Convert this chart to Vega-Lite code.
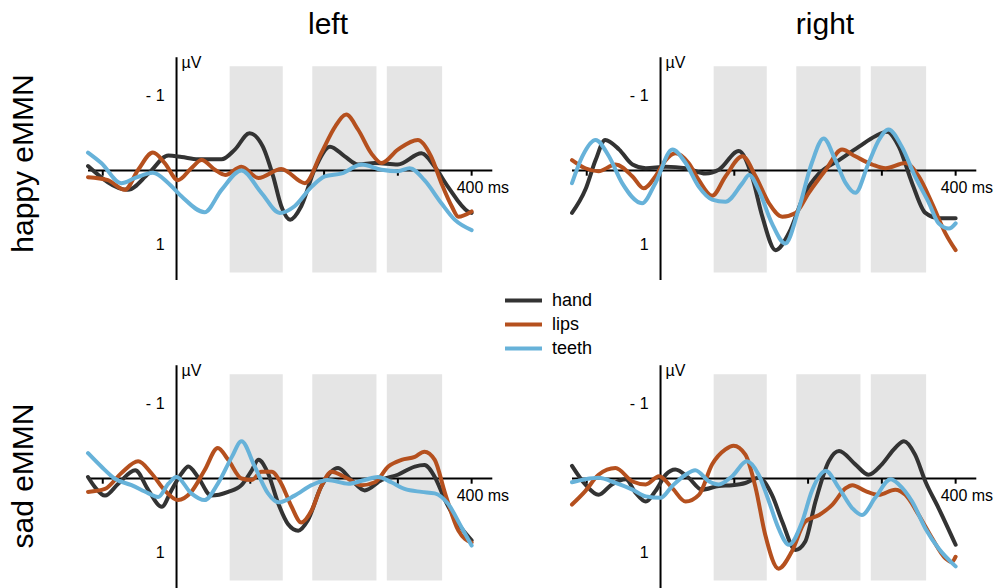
{
  "$schema": "https://vega.github.io/schema/vega-lite/v6.json",
  "autosize": {"type": "pad"},
  "padding": {"left": 8, "top": 10, "right": 0, "bottom": 0},
  "background": "white",
  "config": {
    "view": {"stroke": null},
    "font": "Liberation Sans",
    "title": {"font": "Liberation Sans", "fontSize": 30, "fontWeight": "normal", "color": "#000"},
    "text": {"font": "Liberation Sans", "fontSize": 16, "color": "#000"},
    "legend": {"orient": "none", "legendX": 424, "legendY": 234, "title": null, "symbolType": "M-2,0H2", "symbolStrokeWidth": 4, "symbolSize": 342, "labelFontSize": 18, "labelFont": "Liberation Sans", "labelColor": "#000", "rowPadding": 3, "labelOffset": 17}
  },
  "datasets": {
    "one": [{"id": 1}],
    "bands": [{"t0": 72, "t1": 144}, {"t0": 184, "t1": 271}, {"t0": 285, "t1": 360}],
    "ticks": [{"t": -100}, {"t": 100}, {"t": 200}, {"t": 300}, {"t": 400}],
    "xlabels": [{"t": 400, "label": "400 ms"}],
    "ylabels": [{"v": -1, "label": "- 1"}, {"v": 1, "label": "1"}],
    "units": [{"label": "µV"}],
    "happy_left": [
      {"c":"hand","t":-120,"v":-0.06},{"c":"hand","t":-66,"v":0.26},{"c":"hand","t":-38,"v":0.04},{"c":"hand","t":-11,"v":-0.2},{"c":"hand","t":7,"v":-0.18},{"c":"hand","t":29,"v":-0.15},{"c":"hand","t":61,"v":-0.15},{"c":"hand","t":79,"v":-0.28},{"c":"hand","t":99,"v":-0.5},{"c":"hand","t":117,"v":-0.32},{"c":"hand","t":131,"v":0.08},{"c":"hand","t":142,"v":0.48},{"c":"hand","t":154,"v":0.66},{"c":"hand","t":169,"v":0.48},{"c":"hand","t":187,"v":-0.01},{"c":"hand","t":208,"v":-0.32},{"c":"hand","t":228,"v":-0.19},{"c":"hand","t":246,"v":-0.08},{"c":"hand","t":269,"v":-0.1},{"c":"hand","t":300,"v":-0.08},{"c":"hand","t":332,"v":-0.23},{"c":"hand","t":350,"v":-0.05},{"c":"hand","t":368,"v":0.22},{"c":"hand","t":395,"v":0.55},{"c":"hand","t":400,"v":0.57},
      {"c":"lips","t":-120,"v":0.09},{"c":"lips","t":-93,"v":0.13},{"c":"lips","t":-70,"v":0.26},{"c":"lips","t":-52,"v":-0.01},{"c":"lips","t":-32,"v":-0.24},{"c":"lips","t":-16,"v":-0.1},{"c":"lips","t":2,"v":0.13},{"c":"lips","t":20,"v":-0.03},{"c":"lips","t":34,"v":-0.14},{"c":"lips","t":52,"v":-0.01},{"c":"lips","t":66,"v":0.06},{"c":"lips","t":88,"v":-0.05},{"c":"lips","t":111,"v":0.1},{"c":"lips","t":142,"v":-0.02},{"c":"lips","t":174,"v":0.17},{"c":"lips","t":196,"v":-0.23},{"c":"lips","t":215,"v":-0.59},{"c":"lips","t":230,"v":-0.75},{"c":"lips","t":246,"v":-0.55},{"c":"lips","t":264,"v":-0.23},{"c":"lips","t":278,"v":-0.1},{"c":"lips","t":300,"v":-0.28},{"c":"lips","t":327,"v":-0.41},{"c":"lips","t":345,"v":-0.19},{"c":"lips","t":359,"v":0.17},{"c":"lips","t":373,"v":0.48},{"c":"lips","t":382,"v":0.62},{"c":"lips","t":400,"v":0.55},
      {"c":"teeth","t":-120,"v":-0.24},{"c":"teeth","t":-102,"v":-0.1},{"c":"teeth","t":-75,"v":0.17},{"c":"teeth","t":-56,"v":0.1},{"c":"teeth","t":-32,"v":0.03},{"c":"teeth","t":-11,"v":0.17},{"c":"teeth","t":7,"v":0.35},{"c":"teeth","t":38,"v":0.56},{"c":"teeth","t":61,"v":0.26},{"c":"teeth","t":88,"v":0},{"c":"teeth","t":115,"v":0.3},{"c":"teeth","t":140,"v":0.57},{"c":"teeth","t":160,"v":0.48},{"c":"teeth","t":183,"v":0.22},{"c":"teeth","t":201,"v":0.08},{"c":"teeth","t":224,"v":0.04},{"c":"teeth","t":251,"v":-0.08},{"c":"teeth","t":278,"v":-0.01},{"c":"teeth","t":300,"v":0.01},{"c":"teeth","t":316,"v":-0.03},{"c":"teeth","t":336,"v":0.13},{"c":"teeth","t":359,"v":0.44},{"c":"teeth","t":377,"v":0.66},{"c":"teeth","t":400,"v":0.8}
    ],
    "happy_right": [
      {"c":"hand","t":-120,"v":0.57},{"c":"hand","t":-102,"v":0.26},{"c":"hand","t":-88,"v":-0.14},{"c":"hand","t":-75,"v":-0.41},{"c":"hand","t":-56,"v":-0.28},{"c":"hand","t":-38,"v":-0.08},{"c":"hand","t":-20,"v":-0.03},{"c":"hand","t":7,"v":-0.05},{"c":"hand","t":34,"v":-0.03},{"c":"hand","t":61,"v":0.04},{"c":"hand","t":79,"v":-0.01},{"c":"hand","t":106,"v":-0.26},{"c":"hand","t":124,"v":0.08},{"c":"hand","t":138,"v":0.62},{"c":"hand","t":156,"v":1.07},{"c":"hand","t":174,"v":0.84},{"c":"hand","t":196,"v":0.3},{"c":"hand","t":215,"v":0.04},{"c":"hand","t":242,"v":-0.14},{"c":"hand","t":269,"v":-0.32},{"c":"hand","t":291,"v":-0.46},{"c":"hand","t":307,"v":-0.52},{"c":"hand","t":323,"v":-0.32},{"c":"hand","t":341,"v":0.17},{"c":"hand","t":359,"v":0.57},{"c":"hand","t":377,"v":0.64},{"c":"hand","t":400,"v":0.64},
      {"c":"lips","t":-120,"v":-0.14},{"c":"lips","t":-102,"v":-0.03},{"c":"lips","t":-84,"v":0.01},{"c":"lips","t":-61,"v":-0.08},{"c":"lips","t":-38,"v":0.08},{"c":"lips","t":-23,"v":0.24},{"c":"lips","t":-7,"v":0.08},{"c":"lips","t":7,"v":-0.14},{"c":"lips","t":20,"v":-0.23},{"c":"lips","t":38,"v":-0.1},{"c":"lips","t":52,"v":0.13},{"c":"lips","t":70,"v":0.34},{"c":"lips","t":88,"v":0.08},{"c":"lips","t":111,"v":-0.19},{"c":"lips","t":129,"v":0.08},{"c":"lips","t":147,"v":0.44},{"c":"lips","t":165,"v":0.62},{"c":"lips","t":183,"v":0.57},{"c":"lips","t":201,"v":0.3},{"c":"lips","t":224,"v":-0.01},{"c":"lips","t":246,"v":-0.28},{"c":"lips","t":264,"v":-0.19},{"c":"lips","t":287,"v":-0.08},{"c":"lips","t":305,"v":-0.03},{"c":"lips","t":332,"v":-0.1},{"c":"lips","t":350,"v":0.08},{"c":"lips","t":368,"v":0.44},{"c":"lips","t":386,"v":0.84},{"c":"lips","t":400,"v":1.07},
      {"c":"teeth","t":-120,"v":0.17},{"c":"teeth","t":-106,"v":-0.19},{"c":"teeth","t":-88,"v":-0.41},{"c":"teeth","t":-70,"v":-0.19},{"c":"teeth","t":-52,"v":0.17},{"c":"teeth","t":-25,"v":0.44},{"c":"teeth","t":-7,"v":0.17},{"c":"teeth","t":16,"v":-0.28},{"c":"teeth","t":34,"v":-0.1},{"c":"teeth","t":52,"v":0.22},{"c":"teeth","t":70,"v":0.39},{"c":"teeth","t":88,"v":0.42},{"c":"teeth","t":111,"v":0.17},{"c":"teeth","t":120,"v":0.06},{"c":"teeth","t":133,"v":0.26},{"c":"teeth","t":151,"v":0.71},{"c":"teeth","t":169,"v":0.98},{"c":"teeth","t":187,"v":0.53},{"c":"teeth","t":205,"v":-0.1},{"c":"teeth","t":221,"v":-0.43},{"c":"teeth","t":237,"v":-0.14},{"c":"teeth","t":251,"v":0.17},{"c":"teeth","t":264,"v":0.3},{"c":"teeth","t":282,"v":-0.1},{"c":"teeth","t":296,"v":-0.41},{"c":"teeth","t":309,"v":-0.55},{"c":"teeth","t":327,"v":-0.32},{"c":"teeth","t":345,"v":0.08},{"c":"teeth","t":364,"v":0.44},{"c":"teeth","t":377,"v":0.71},{"c":"teeth","t":391,"v":0.78},{"c":"teeth","t":400,"v":0.71}
    ],
    "sad_left": [
      {"c":"hand","t":-120,"v":-0.02},{"c":"hand","t":-111,"v":0.11},{"c":"hand","t":-97,"v":0.23},{"c":"hand","t":-79,"v":0.07},{"c":"hand","t":-56,"v":-0.11},{"c":"hand","t":-38,"v":0.16},{"c":"hand","t":-20,"v":0.38},{"c":"hand","t":-7,"v":0.16},{"c":"hand","t":7,"v":-0.07},{"c":"hand","t":16,"v":-0.16},{"c":"hand","t":29,"v":-0.02},{"c":"hand","t":47,"v":0.23},{"c":"hand","t":70,"v":0.18},{"c":"hand","t":88,"v":0.09},{"c":"hand","t":102,"v":-0.11},{"c":"hand","t":111,"v":-0.25},{"c":"hand","t":124,"v":-0.07},{"c":"hand","t":138,"v":0.34},{"c":"hand","t":151,"v":0.61},{"c":"hand","t":165,"v":0.7},{"c":"hand","t":178,"v":0.56},{"c":"hand","t":196,"v":0.11},{"c":"hand","t":219,"v":-0.14},{"c":"hand","t":237,"v":0.02},{"c":"hand","t":255,"v":0.16},{"c":"hand","t":278,"v":0.02},{"c":"hand","t":300,"v":-0.05},{"c":"hand","t":323,"v":-0.16},{"c":"hand","t":336,"v":-0.18},{"c":"hand","t":350,"v":-0.02},{"c":"hand","t":364,"v":0.29},{"c":"hand","t":382,"v":0.61},{"c":"hand","t":400,"v":0.83},
      {"c":"lips","t":-120,"v":0.18},{"c":"lips","t":-97,"v":0.14},{"c":"lips","t":-75,"v":-0.07},{"c":"lips","t":-52,"v":-0.23},{"c":"lips","t":-34,"v":-0.07},{"c":"lips","t":-16,"v":0.16},{"c":"lips","t":2,"v":0.29},{"c":"lips","t":20,"v":0.18},{"c":"lips","t":38,"v":-0.11},{"c":"lips","t":56,"v":-0.41},{"c":"lips","t":70,"v":-0.25},{"c":"lips","t":88,"v":0},{"c":"lips","t":102,"v":0.02},{"c":"lips","t":115,"v":-0.09},{"c":"lips","t":129,"v":-0.09},{"c":"lips","t":142,"v":0.07},{"c":"lips","t":156,"v":0.38},{"c":"lips","t":169,"v":0.59},{"c":"lips","t":183,"v":0.43},{"c":"lips","t":196,"v":0.11},{"c":"lips","t":210,"v":-0.09},{"c":"lips","t":228,"v":-0.02},{"c":"lips","t":251,"v":0.09},{"c":"lips","t":269,"v":0.05},{"c":"lips","t":287,"v":-0.16},{"c":"lips","t":305,"v":-0.25},{"c":"lips","t":323,"v":-0.29},{"c":"lips","t":336,"v":-0.36},{"c":"lips","t":350,"v":-0.25},{"c":"lips","t":364,"v":0.2},{"c":"lips","t":382,"v":0.7},{"c":"lips","t":400,"v":0.86},
      {"c":"teeth","t":-120,"v":-0.34},{"c":"teeth","t":-102,"v":-0.16},{"c":"teeth","t":-84,"v":0},{"c":"teeth","t":-61,"v":0.09},{"c":"teeth","t":-38,"v":0.2},{"c":"teeth","t":-25,"v":0.25},{"c":"teeth","t":-11,"v":0.07},{"c":"teeth","t":0,"v":-0.02},{"c":"teeth","t":20,"v":0.2},{"c":"teeth","t":38,"v":0.29},{"c":"teeth","t":56,"v":0.07},{"c":"teeth","t":75,"v":-0.29},{"c":"teeth","t":88,"v":-0.5},{"c":"teeth","t":106,"v":-0.16},{"c":"teeth","t":124,"v":0.2},{"c":"teeth","t":138,"v":0.32},{"c":"teeth","t":160,"v":0.23},{"c":"teeth","t":183,"v":0.09},{"c":"teeth","t":205,"v":0.02},{"c":"teeth","t":233,"v":0.07},{"c":"teeth","t":255,"v":0.02},{"c":"teeth","t":273,"v":-0.02},{"c":"teeth","t":291,"v":0.05},{"c":"teeth","t":309,"v":0.14},{"c":"teeth","t":332,"v":0.18},{"c":"teeth","t":350,"v":0.2},{"c":"teeth","t":368,"v":0.34},{"c":"teeth","t":386,"v":0.65},{"c":"teeth","t":400,"v":0.9}
    ],
    "sad_right": [
      {"c":"hand","t":-120,"v":-0.17},{"c":"hand","t":-102,"v":0.08},{"c":"hand","t":-84,"v":0.22},{"c":"hand","t":-66,"v":0.08},{"c":"hand","t":-47,"v":0.01},{"c":"hand","t":-34,"v":0.19},{"c":"hand","t":-20,"v":0.31},{"c":"hand","t":-7,"v":0.17},{"c":"hand","t":7,"v":-0.05},{"c":"hand","t":20,"v":-0.12},{"c":"hand","t":38,"v":-0.01},{"c":"hand","t":56,"v":0.15},{"c":"hand","t":79,"v":0.1},{"c":"hand","t":97,"v":0.09},{"c":"hand","t":115,"v":0.06},{"c":"hand","t":133,"v":-0.01},{"c":"hand","t":151,"v":0.22},{"c":"hand","t":165,"v":0.58},{"c":"hand","t":183,"v":0.96},{"c":"hand","t":196,"v":0.85},{"c":"hand","t":210,"v":0.31},{"c":"hand","t":228,"v":-0.23},{"c":"hand","t":242,"v":-0.37},{"c":"hand","t":264,"v":-0.19},{"c":"hand","t":282,"v":-0.05},{"c":"hand","t":300,"v":-0.19},{"c":"hand","t":318,"v":-0.41},{"c":"hand","t":330,"v":-0.5},{"c":"hand","t":345,"v":-0.32},{"c":"hand","t":359,"v":0.04},{"c":"hand","t":377,"v":0.4},{"c":"hand","t":400,"v":0.89},
      {"c":"lips","t":-120,"v":0.35},{"c":"lips","t":-102,"v":0.17},{"c":"lips","t":-84,"v":-0.05},{"c":"lips","t":-61,"v":-0.14},{"c":"lips","t":-38,"v":0.04},{"c":"lips","t":-20,"v":0.08},{"c":"lips","t":-2,"v":-0.03},{"c":"lips","t":16,"v":0.13},{"c":"lips","t":34,"v":0.31},{"c":"lips","t":52,"v":0.22},{"c":"lips","t":70,"v":-0.19},{"c":"lips","t":88,"v":-0.39},{"c":"lips","t":99,"v":-0.44},{"c":"lips","t":115,"v":-0.32},{"c":"lips","t":129,"v":0.13},{"c":"lips","t":142,"v":0.76},{"c":"lips","t":160,"v":1.21},{"c":"lips","t":178,"v":0.98},{"c":"lips","t":196,"v":0.58},{"c":"lips","t":215,"v":0.49},{"c":"lips","t":233,"v":0.35},{"c":"lips","t":251,"v":0.13},{"c":"lips","t":260,"v":0.09},{"c":"lips","t":278,"v":0.17},{"c":"lips","t":296,"v":0.22},{"c":"lips","t":318,"v":0.15},{"c":"lips","t":332,"v":0.22},{"c":"lips","t":350,"v":0.49},{"c":"lips","t":368,"v":0.8},{"c":"lips","t":386,"v":1.07},{"c":"lips","t":395,"v":1.12},{"c":"lips","t":400,"v":1.05},
      {"c":"teeth","t":-120,"v":0.05},{"c":"teeth","t":-102,"v":0.01},{"c":"teeth","t":-84,"v":-0.01},{"c":"teeth","t":-61,"v":0.06},{"c":"teeth","t":-38,"v":0.15},{"c":"teeth","t":-20,"v":0.24},{"c":"teeth","t":0,"v":0.26},{"c":"teeth","t":16,"v":0.1},{"c":"teeth","t":34,"v":-0.05},{"c":"teeth","t":47,"v":-0.11},{"c":"teeth","t":66,"v":0.04},{"c":"teeth","t":79,"v":0.08},{"c":"teeth","t":97,"v":-0.03},{"c":"teeth","t":117,"v":-0.23},{"c":"teeth","t":133,"v":-0.05},{"c":"teeth","t":147,"v":0.31},{"c":"teeth","t":160,"v":0.67},{"c":"teeth","t":174,"v":0.89},{"c":"teeth","t":192,"v":0.58},{"c":"teeth","t":205,"v":0.17},{"c":"teeth","t":224,"v":-0.1},{"c":"teeth","t":242,"v":0.13},{"c":"teeth","t":260,"v":0.4},{"c":"teeth","t":273,"v":0.49},{"c":"teeth","t":291,"v":0.26},{"c":"teeth","t":312,"v":0.01},{"c":"teeth","t":323,"v":0.08},{"c":"teeth","t":341,"v":0.31},{"c":"teeth","t":359,"v":0.67},{"c":"teeth","t":377,"v":0.94},{"c":"teeth","t":400,"v":1.18}
    ]
  },
  "spacing": 82,
  "vconcat": [
    {
      "title": {"text": "happy eMMN", "orient": "left", "anchor": "middle", "offset": 41, "dx": -18},
      "spacing": 54,
      "hconcat": [
        {
          "width": 422, "height": 225,
          "title": {"text": "left", "anchor": "middle", "dx": 29, "offset": -9, "baseline": "alphabetic"},
          "layer": [
            {"data": {"name": "bands"}, "mark": {"type": "rect", "color": "#e5e5e5"}, "encoding": {"x": {"field": "t0", "type": "quantitative", "scale": {"domain": [-120, 452], "nice": false, "zero": false}, "axis": null}, "x2": {"field": "t1"}, "y": {"datum": -1.4, "type": "quantitative", "scale": {"domain": [-1.55, 1.47], "reverse": true, "nice": false, "zero": false}, "axis": null}, "y2": {"datum": 1.37}}},
            {"data": {"name": "one"}, "mark": {"type": "rule", "color": "#000", "strokeWidth": 2}, "encoding": {"x": {"datum": -120, "type": "quantitative"}, "x2": {"datum": 428}, "y": {"datum": 0, "type": "quantitative"}}},
            {"data": {"name": "one"}, "mark": {"type": "rule", "color": "#000", "strokeWidth": 2}, "encoding": {"x": {"datum": 0, "type": "quantitative"}, "y": {"datum": -1.52, "type": "quantitative"}, "y2": {"datum": 1.47}}},
            {"data": {"name": "ticks"}, "mark": {"type": "rule", "color": "#000", "strokeWidth": 2}, "encoding": {"x": {"field": "t", "type": "quantitative"}, "y": {"datum": 0, "type": "quantitative"}, "y2": {"datum": 0.07}}},
            {"data": {"name": "happy_left"}, "mark": {"type": "line", "strokeWidth": 4, "interpolate": "monotone", "strokeCap": "round"}, "encoding": {"x": {"field": "t", "type": "quantitative"}, "y": {"field": "v", "type": "quantitative"}, "color": {"field": "c", "type": "nominal", "scale": {"domain": ["hand", "lips", "teeth"], "range": ["#333333", "#b5501e", "#67b2d9"]}}}},
            {"data": {"name": "xlabels"}, "mark": {"type": "text", "align": "left", "baseline": "alphabetic", "dx": -15, "dy": 23}, "encoding": {"x": {"field": "t", "type": "quantitative"}, "y": {"datum": 0, "type": "quantitative"}, "text": {"field": "label"}}},
            {"data": {"name": "ylabels"}, "mark": {"type": "text", "align": "right", "baseline": "middle", "dx": -12}, "encoding": {"x": {"datum": 0, "type": "quantitative"}, "y": {"field": "v", "type": "quantitative"}, "text": {"field": "label"}}},
            {"data": {"name": "units"}, "mark": {"type": "text", "align": "left", "baseline": "top", "dx": 5, "dy": -2}, "encoding": {"x": {"datum": 0, "type": "quantitative"}, "y": {"datum": -1.52, "type": "quantitative"}, "text": {"field": "label"}}}
          ]
        },
        {
          "width": 422, "height": 225,
          "title": {"text": "right", "anchor": "middle", "dx": 42, "offset": -9, "baseline": "alphabetic"},
          "layer": [
            {"data": {"name": "bands"}, "mark": {"type": "rect", "color": "#e5e5e5"}, "encoding": {"x": {"field": "t0", "type": "quantitative", "scale": {"domain": [-120, 452], "nice": false, "zero": false}, "axis": null}, "x2": {"field": "t1"}, "y": {"datum": -1.4, "type": "quantitative", "scale": {"domain": [-1.55, 1.47], "reverse": true, "nice": false, "zero": false}, "axis": null}, "y2": {"datum": 1.37}}},
            {"data": {"name": "one"}, "mark": {"type": "rule", "color": "#000", "strokeWidth": 2}, "encoding": {"x": {"datum": -120, "type": "quantitative"}, "x2": {"datum": 428}, "y": {"datum": 0, "type": "quantitative"}}},
            {"data": {"name": "one"}, "mark": {"type": "rule", "color": "#000", "strokeWidth": 2}, "encoding": {"x": {"datum": 0, "type": "quantitative"}, "y": {"datum": -1.52, "type": "quantitative"}, "y2": {"datum": 1.47}}},
            {"data": {"name": "ticks"}, "mark": {"type": "rule", "color": "#000", "strokeWidth": 2}, "encoding": {"x": {"field": "t", "type": "quantitative"}, "y": {"datum": 0, "type": "quantitative"}, "y2": {"datum": 0.07}}},
            {"data": {"name": "happy_right"}, "mark": {"type": "line", "strokeWidth": 4, "interpolate": "monotone", "strokeCap": "round"}, "encoding": {"x": {"field": "t", "type": "quantitative"}, "y": {"field": "v", "type": "quantitative"}, "color": {"field": "c", "type": "nominal", "scale": {"domain": ["hand", "lips", "teeth"], "range": ["#333333", "#b5501e", "#67b2d9"]}}}},
            {"data": {"name": "xlabels"}, "mark": {"type": "text", "align": "left", "baseline": "alphabetic", "dx": -15, "dy": 23}, "encoding": {"x": {"field": "t", "type": "quantitative"}, "y": {"datum": 0, "type": "quantitative"}, "text": {"field": "label"}}},
            {"data": {"name": "ylabels"}, "mark": {"type": "text", "align": "right", "baseline": "middle", "dx": -12}, "encoding": {"x": {"datum": 0, "type": "quantitative"}, "y": {"field": "v", "type": "quantitative"}, "text": {"field": "label"}}},
            {"data": {"name": "units"}, "mark": {"type": "text", "align": "left", "baseline": "top", "dx": 5, "dy": -2}, "encoding": {"x": {"datum": 0, "type": "quantitative"}, "y": {"datum": -1.52, "type": "quantitative"}, "text": {"field": "label"}}}
          ]
        }
      ]
    },
    {
      "title": {"text": "sad eMMN", "orient": "left", "anchor": "middle", "offset": 41},
      "spacing": 54,
      "hconcat": [
        {
          "width": 422, "height": 225,
          "layer": [
            {"data": {"name": "bands"}, "mark": {"type": "rect", "color": "#e5e5e5"}, "encoding": {"x": {"field": "t0", "type": "quantitative", "scale": {"domain": [-120, 452], "nice": false, "zero": false}, "axis": null}, "x2": {"field": "t1"}, "y": {"datum": -1.4, "type": "quantitative", "scale": {"domain": [-1.55, 1.47], "reverse": true, "nice": false, "zero": false}, "axis": null}, "y2": {"datum": 1.37}}},
            {"data": {"name": "one"}, "mark": {"type": "rule", "color": "#000", "strokeWidth": 2}, "encoding": {"x": {"datum": -120, "type": "quantitative"}, "x2": {"datum": 428}, "y": {"datum": 0, "type": "quantitative"}}},
            {"data": {"name": "one"}, "mark": {"type": "rule", "color": "#000", "strokeWidth": 2}, "encoding": {"x": {"datum": 0, "type": "quantitative"}, "y": {"datum": -1.52, "type": "quantitative"}, "y2": {"datum": 1.47}}},
            {"data": {"name": "ticks"}, "mark": {"type": "rule", "color": "#000", "strokeWidth": 2}, "encoding": {"x": {"field": "t", "type": "quantitative"}, "y": {"datum": 0, "type": "quantitative"}, "y2": {"datum": 0.07}}},
            {"data": {"name": "sad_left"}, "mark": {"type": "line", "strokeWidth": 4, "interpolate": "monotone", "strokeCap": "round"}, "encoding": {"x": {"field": "t", "type": "quantitative"}, "y": {"field": "v", "type": "quantitative"}, "color": {"field": "c", "type": "nominal", "scale": {"domain": ["hand", "lips", "teeth"], "range": ["#333333", "#b5501e", "#67b2d9"]}}}},
            {"data": {"name": "xlabels"}, "mark": {"type": "text", "align": "left", "baseline": "alphabetic", "dx": -15, "dy": 23}, "encoding": {"x": {"field": "t", "type": "quantitative"}, "y": {"datum": 0, "type": "quantitative"}, "text": {"field": "label"}}},
            {"data": {"name": "ylabels"}, "mark": {"type": "text", "align": "right", "baseline": "middle", "dx": -12}, "encoding": {"x": {"datum": 0, "type": "quantitative"}, "y": {"field": "v", "type": "quantitative"}, "text": {"field": "label"}}},
            {"data": {"name": "units"}, "mark": {"type": "text", "align": "left", "baseline": "top", "dx": 5, "dy": -2}, "encoding": {"x": {"datum": 0, "type": "quantitative"}, "y": {"datum": -1.52, "type": "quantitative"}, "text": {"field": "label"}}}
          ]
        },
        {
          "width": 422, "height": 225,
          "layer": [
            {"data": {"name": "bands"}, "mark": {"type": "rect", "color": "#e5e5e5"}, "encoding": {"x": {"field": "t0", "type": "quantitative", "scale": {"domain": [-120, 452], "nice": false, "zero": false}, "axis": null}, "x2": {"field": "t1"}, "y": {"datum": -1.4, "type": "quantitative", "scale": {"domain": [-1.55, 1.47], "reverse": true, "nice": false, "zero": false}, "axis": null}, "y2": {"datum": 1.37}}},
            {"data": {"name": "one"}, "mark": {"type": "rule", "color": "#000", "strokeWidth": 2}, "encoding": {"x": {"datum": -120, "type": "quantitative"}, "x2": {"datum": 428}, "y": {"datum": 0, "type": "quantitative"}}},
            {"data": {"name": "one"}, "mark": {"type": "rule", "color": "#000", "strokeWidth": 2}, "encoding": {"x": {"datum": 0, "type": "quantitative"}, "y": {"datum": -1.52, "type": "quantitative"}, "y2": {"datum": 1.47}}},
            {"data": {"name": "ticks"}, "mark": {"type": "rule", "color": "#000", "strokeWidth": 2}, "encoding": {"x": {"field": "t", "type": "quantitative"}, "y": {"datum": 0, "type": "quantitative"}, "y2": {"datum": 0.07}}},
            {"data": {"name": "sad_right"}, "mark": {"type": "line", "strokeWidth": 4, "interpolate": "monotone", "strokeCap": "round"}, "encoding": {"x": {"field": "t", "type": "quantitative"}, "y": {"field": "v", "type": "quantitative"}, "color": {"field": "c", "type": "nominal", "scale": {"domain": ["hand", "lips", "teeth"], "range": ["#333333", "#b5501e", "#67b2d9"]}}}},
            {"data": {"name": "xlabels"}, "mark": {"type": "text", "align": "left", "baseline": "alphabetic", "dx": -15, "dy": 23}, "encoding": {"x": {"field": "t", "type": "quantitative"}, "y": {"datum": 0, "type": "quantitative"}, "text": {"field": "label"}}},
            {"data": {"name": "ylabels"}, "mark": {"type": "text", "align": "right", "baseline": "middle", "dx": -12}, "encoding": {"x": {"datum": 0, "type": "quantitative"}, "y": {"field": "v", "type": "quantitative"}, "text": {"field": "label"}}},
            {"data": {"name": "units"}, "mark": {"type": "text", "align": "left", "baseline": "top", "dx": 5, "dy": -2}, "encoding": {"x": {"datum": 0, "type": "quantitative"}, "y": {"datum": -1.52, "type": "quantitative"}, "text": {"field": "label"}}}
          ]
        }
      ]
    }
  ]
}
